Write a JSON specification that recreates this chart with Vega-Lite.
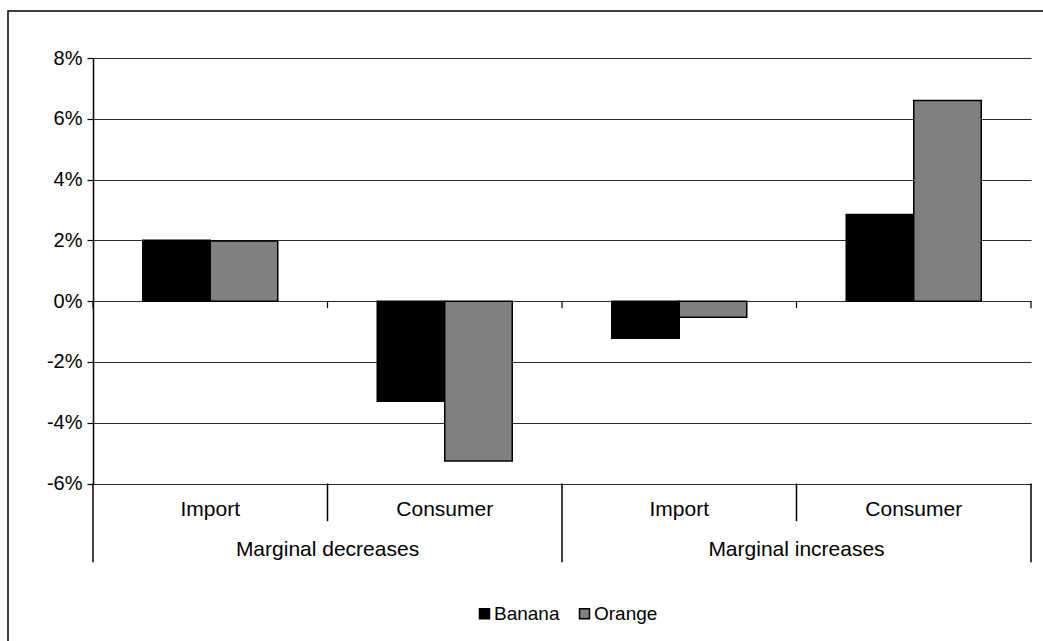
{
  "$schema": "https://vega.github.io/schema/vega-lite/v6.json",
  "autosize": "none",
  "padding": {"left": 8, "top": 11, "right": 0, "bottom": 0},
  "width": 1040,
  "height": 635,
  "background": "white",
  "config": {
    "view": {"stroke": "#000000", "strokeWidth": 1.5},
    "font": "Liberation Sans",
    "text": {"font": "Liberation Sans", "fontSize": 21, "fill": "#000000"}
  },
  "datasets": {
    "shares": [
      {"group": "Marginal decreases", "type": "Import", "key": "dec-Import", "fruit": "Banana", "share": 0.0200},
      {"group": "Marginal decreases", "type": "Import", "key": "dec-Import", "fruit": "Orange", "share": 0.0198},
      {"group": "Marginal decreases", "type": "Consumer", "key": "dec-Consumer", "fruit": "Banana", "share": -0.0329},
      {"group": "Marginal decreases", "type": "Consumer", "key": "dec-Consumer", "fruit": "Orange", "share": -0.0526},
      {"group": "Marginal increases", "type": "Import", "key": "inc-Import", "fruit": "Banana", "share": -0.0122},
      {"group": "Marginal increases", "type": "Import", "key": "inc-Import", "fruit": "Orange", "share": -0.0053},
      {"group": "Marginal increases", "type": "Consumer", "key": "inc-Consumer", "fruit": "Banana", "share": 0.0285},
      {"group": "Marginal increases", "type": "Consumer", "key": "inc-Consumer", "fruit": "Orange", "share": 0.0660}
    ],
    "categories": [
      {"key": "dec-Import", "label": "Import"},
      {"key": "dec-Consumer", "label": "Consumer"},
      {"key": "inc-Import", "label": "Import"},
      {"key": "inc-Consumer", "label": "Consumer"}
    ],
    "groups": [
      {"key": "dec-Import", "label": "Marginal decreases"},
      {"key": "inc-Import", "label": "Marginal increases"}
    ],
    "splits": [
      {"key": "dec-Consumer"},
      {"key": "inc-Consumer"}
    ],
    "lastCategory": [
      {"key": "inc-Consumer"}
    ]
  },
  "layer": [
    {
      "data": {"name": "shares"},
      "mark": {"type": "bar", "stroke": "#000000", "strokeWidth": 1.5},
      "encoding": {
        "x": {
          "field": "key",
          "type": "nominal",
          "axis": null,
          "scale": {
            "type": "band",
            "domain": ["dec-Import", "dec-Consumer", "inc-Import", "inc-Consumer"],
            "range": [85, 1023],
            "paddingInner": 0,
            "paddingOuter": 0
          }
        },
        "xOffset": {
          "field": "fruit",
          "type": "nominal",
          "scale": {"domain": ["Banana", "Orange"], "paddingInner": 0, "paddingOuter": 0.737}
        },
        "y": {
          "field": "share",
          "type": "quantitative",
          "scale": {"domain": [-0.06, 0.08], "range": [472.5, 47], "nice": false, "zero": false},
          "axis": {
            "title": null,
            "values": [-0.06, -0.04, -0.02, 0, 0.02, 0.04, 0.06, 0.08],
            "labelExpr": "replace(format(datum.value, '.0%'), '\u2212', '-')",
            "offset": -85,
            "grid": true,
            "gridColor": "#2b2b2b",
            "gridWidth": 1.2,
            "domainColor": "#000000",
            "domainWidth": 1.5,
            "tickColor": "#000000",
            "tickWidth": 1.2,
            "tickSize": 6,
            "labelFont": "Liberation Sans",
            "labelFontSize": 20,
            "labelColor": "#000000",
            "labelPadding": 5
          }
        },
        "y2": {"datum": 0},
        "fill": {
          "field": "fruit",
          "type": "nominal",
          "scale": {"domain": ["Banana", "Orange"], "range": ["#000000", "#808080"]},
          "legend": {
            "orient": "none",
            "legendX": 467,
            "legendY": 593,
            "direction": "horizontal",
            "title": null,
            "padding": 0,
            "symbolType": "square",
            "symbolSize": 100,
            "symbolStrokeColor": "#000000",
            "symbolStrokeWidth": 1.5,
            "labelFont": "Liberation Sans",
            "labelFontSize": 19,
            "labelColor": "#000000",
            "labelOffset": 0,
            "columnPadding": 15
          }
        }
      }
    },
    {
      "data": {"name": "categories"},
      "mark": {"type": "rule", "stroke": "#000000", "strokeWidth": 1.2},
      "encoding": {
        "x": {"field": "key", "type": "nominal", "bandPosition": 0},
        "y": {"datum": 0},
        "y2": {"datum": -0.0023}
      }
    },
    {
      "data": {"name": "lastCategory"},
      "mark": {"type": "rule", "stroke": "#000000", "strokeWidth": 1.2},
      "encoding": {
        "x": {"field": "key", "type": "nominal", "bandPosition": 1},
        "y": {"datum": 0},
        "y2": {"datum": -0.0023}
      }
    },
    {
      "data": {"name": "splits"},
      "mark": {"type": "rule", "stroke": "#000000", "strokeWidth": 1.5},
      "encoding": {
        "x": {"field": "key", "type": "nominal", "bandPosition": 0},
        "y": {"datum": -0.06},
        "y2": {"datum": -0.0724}
      }
    },
    {
      "data": {"name": "groups"},
      "mark": {"type": "rule", "stroke": "#000000", "strokeWidth": 1.5},
      "encoding": {
        "x": {"field": "key", "type": "nominal", "bandPosition": 0},
        "y": {"datum": -0.06},
        "y2": {"datum": -0.0859}
      }
    },
    {
      "data": {"name": "lastCategory"},
      "mark": {"type": "rule", "stroke": "#000000", "strokeWidth": 1.5},
      "encoding": {
        "x": {"field": "key", "type": "nominal", "bandPosition": 1},
        "y": {"datum": -0.06},
        "y2": {"datum": -0.0859}
      }
    },
    {
      "data": {"name": "categories"},
      "mark": {"type": "text", "align": "center", "baseline": "middle"},
      "encoding": {
        "x": {"field": "key", "type": "nominal"},
        "y": {"datum": -0.0687},
        "text": {"field": "label"}
      }
    },
    {
      "data": {"name": "groups"},
      "mark": {"type": "text", "align": "center", "baseline": "middle"},
      "encoding": {
        "x": {"field": "key", "type": "nominal", "bandPosition": 1},
        "y": {"datum": -0.0818},
        "text": {"field": "label"}
      }
    }
  ]
}
